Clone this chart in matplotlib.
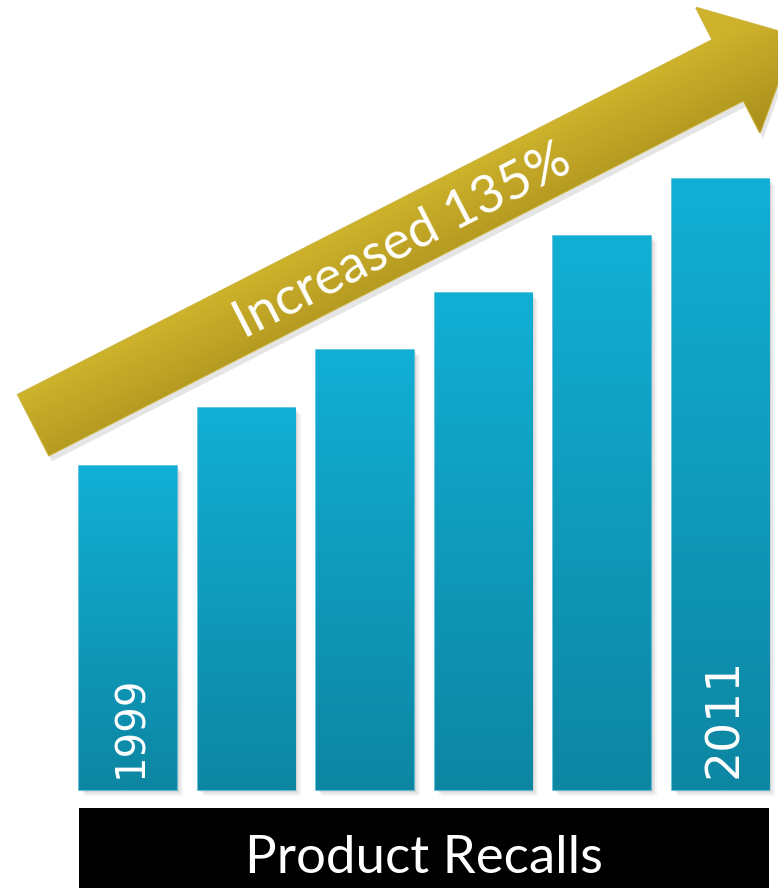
import matplotlib
matplotlib.use("Agg")
import matplotlib.pyplot as plt
import numpy as np
from matplotlib.colors import LinearSegmentedColormap
from matplotlib.patches import Polygon, Rectangle

# values (no axis shown, arbitrary units)
years = ["1999", "", "", "", "", "2011"]
year_sizes = [29, 34, 34, 34, 34, 34]
recalls = [324, 382, 440, 497, 554, 611]
category = "Product Recalls"
growth_label = "Increased 135%"

W, H = 778, 888
fig = plt.figure(figsize=(W / 100, H / 100), dpi=100)

# bar layer
ax = fig.add_axes([0, 0, 1, 1])
ax.axis("off")
x = np.arange(len(recalls))
bar_w = 0.82

blue = LinearSegmentedColormap.from_list("blue", ["#0D86A2", "#12AFD5"])
grad = np.linspace(0, 1, 256).reshape(-1, 1)

for i, h in zip(x, recalls):
    # soft shadow
    for k, a in [(6, 0.04), (4, 0.06), (2, 0.08)]:
        ax.add_patch(Rectangle((i - bar_w / 2 + k / 118.5, -k), bar_w, h,
                               facecolor="black", alpha=a, lw=0, zorder=1))
bars = ax.bar(x, recalls, width=bar_w, color="#10A0C4", edgecolor="#4DB8D6",
              linewidth=1.2, zorder=2)
for b in bars:
    im = ax.imshow(grad, extent=(b.get_x(), b.get_x() + b.get_width(), 0, b.get_height()),
                   origin="lower", aspect="auto", cmap=blue, zorder=2.5)
    im.set_clip_path(b)

for i, (yr, fs) in enumerate(zip(years, year_sizes)):
    if yr:
        ax.text(i + 0.03, 12, yr, rotation=90, ha="center", va="bottom",
                color="white", fontsize=fs,
                family=["Liberation Sans Narrow", "DejaVu Sans"], zorder=4)

# black category box under the bars
left = x[0] - bar_w / 2
right = x[-1] + bar_w / 2
ax.add_patch(Rectangle((left, -100), right - left, 82, facecolor="black", lw=0, zorder=3))
ax.text((left + right) / 2, -83, category, ha="center", va="baseline",
        color="white", fontsize=38, family=["Lato", "DejaVu Sans"], zorder=4)

ax.set_xlim(-1.08, 5.485)
ax.set_ylim(-98, 790)

# arrow layer in pixel space
ax2 = fig.add_axes([0, 0, 1, 1])
ax2.axis("off")
ax2.patch.set_alpha(0)

ang = np.deg2rad(27.06)
d = np.array([np.cos(ang), -np.sin(ang)])
n = np.array([np.sin(ang), np.cos(ang)])
tail = np.array([33.5, 425.0])
shaft_len, shaft_w, head_w, head_len = 780, 68, 140, 75
end = tail + d * shaft_len
pts = [tail - n * shaft_w / 2, end - n * shaft_w / 2, end - n * head_w / 2,
       end + d * head_len, end + n * head_w / 2, end + n * shaft_w / 2,
       tail + n * shaft_w / 2]

shadow = Polygon([p + np.array([3, 6]) for p in pts], closed=True,
                 facecolor="black", alpha=0.10, lw=0, zorder=1)
ax2.add_patch(shadow)
arrow = Polygon(pts, closed=True, facecolor="#C0A326", edgecolor="#CDB540",
                lw=1.5, zorder=2)
ax2.add_patch(arrow)

gold = LinearSegmentedColormap.from_list("gold", ["#CDB22C", "#A98E1C"])
gx, gy = np.meshgrid(np.arange(0, W, 2), np.arange(0, H, 2))
proj = (gx - tail[0]) * n[0] + (gy - tail[1]) * n[1]
im2 = ax2.imshow(proj, extent=(0, W, H, 0), origin="upper", cmap=gold,
                 vmin=-shaft_w / 2, vmax=head_w / 2, aspect="auto", zorder=2.5)
im2.set_clip_path(arrow)

mid = tail + d * 412 + n * 5
ax2.text(mid[0], mid[1], growth_label, rotation=27.06, rotation_mode="anchor",
         ha="center", va="center", color="white", fontsize=38,
         family=["Lato", "DejaVu Sans"], zorder=3)
ax2.set_xlim(0, W)
ax2.set_ylim(H, 0)

fig.savefig("out.png", dpi=100, facecolor="white")
